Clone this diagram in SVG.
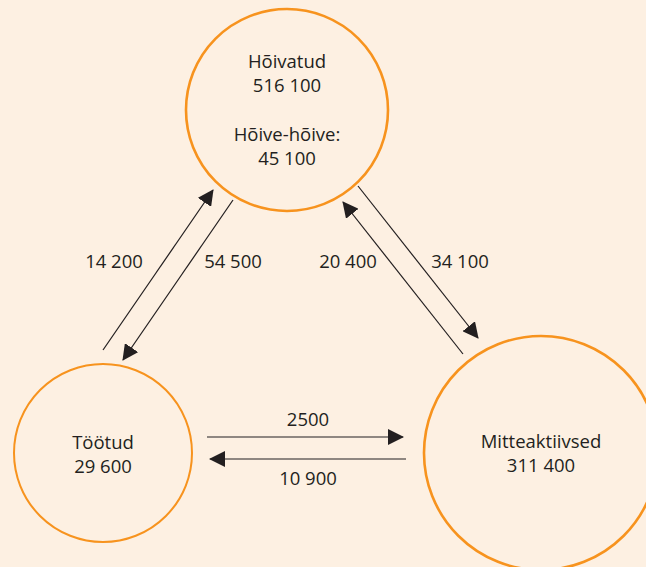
<svg xmlns="http://www.w3.org/2000/svg" width="646" height="567" viewBox="0 0 646 567">
<defs>
<style>
.node{fill:none;stroke:#f7931e}
.t{font-family:"Open Sans","Liberation Sans",sans-serif;font-size:18.5px;fill:#231f20;text-anchor:middle}
.c{stroke:#231f20;stroke-width:1.2;fill:none;marker-end:url(#ah)}
</style>
<marker id="ah" viewBox="0 0 16 16" refX="15" refY="8" markerWidth="16" markerHeight="16" markerUnits="userSpaceOnUse" orient="auto">
<path d="M0,0 L16,8 L0,16 Z" fill="#231f20"/>
</marker>
</defs>
<rect width="646" height="567" fill="#fdf0e2"/>
<g id="hoivatud">
<circle class="node" cx="287" cy="110" r="101" stroke-width="2.6"/>
<text class="t" x="287" y="68">Hõivatud</text>
<text class="t" x="287" y="92">516 100</text>
<text class="t" x="287" y="141">Hõive-hõive:</text>
<text class="t" x="287" y="165">45 100</text>
</g>
<g id="tootud">
<circle class="node" cx="103" cy="453" r="89" stroke-width="2"/>
<text class="t" x="103" y="449">Töötud</text>
<text class="t" x="103" y="473">29 600</text>
</g>
<g id="mitteaktiivsed">
<circle class="node" cx="541" cy="453" r="117" stroke-width="2.6"/>
<text class="t" x="541" y="448">Mitteaktiivsed</text>
<text class="t" x="541" y="472">311 400</text>
</g>
<g id="connectors">
<line class="c" x1="103" y1="350" x2="213" y2="190"/>
<line class="c" x1="233" y1="200" x2="123" y2="360"/>
<line class="c" x1="463" y1="354" x2="343" y2="202"/>
<line class="c" x1="358" y1="186" x2="478" y2="338"/>
<line class="c" x1="207" y1="437" x2="403" y2="437"/>
<line class="c" x1="406" y1="459" x2="210" y2="459"/>
<text class="t" x="114" y="268">14 200</text>
<text class="t" x="233" y="268">54 500</text>
<text class="t" x="348" y="268">20 400</text>
<text class="t" x="460" y="268">34 100</text>
<text class="t" x="308" y="426">2500</text>
<text class="t" x="308" y="485">10 900</text>
</g>
</svg>
